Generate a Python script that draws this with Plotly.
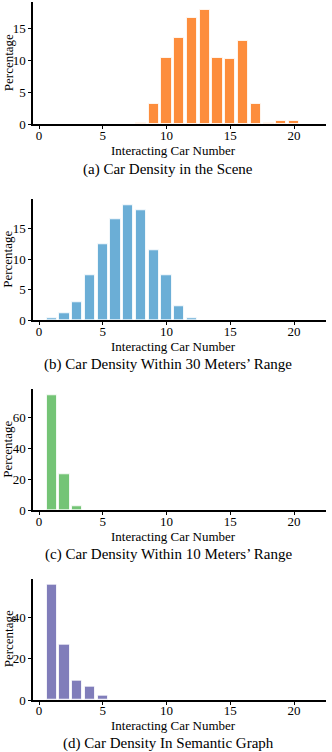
import plotly.graph_objects as go

# Interacting car number (x) and percentage (y) for each panel
scene_cars = [8, 9, 10, 11, 12, 13, 14, 15, 16, 17, 18, 19, 20]
scene_pct = [0.2, 3.2, 10.4, 13.5, 16.6, 17.8, 10.3, 10.2, 13.0, 3.2, 0.2, 0.5, 0.5]

range30_cars = [1, 2, 3, 4, 5, 6, 7, 8, 9, 10, 11, 12]
range30_pct = [0.4, 1.2, 2.9, 7.4, 12.5, 16.6, 18.8, 18.0, 11.5, 7.3, 2.3, 0.4]

range10_cars = [1, 2, 3]
range10_pct = [74.9, 23.1, 2.3]

graph_cars = [1, 2, 3, 4, 5]
graph_pct = [56.0, 26.7, 9.6, 6.3, 1.9]

panel_titles = [
    "(a) Car Density in the Scene",
    "(b) Car Density Within 30 Meters\u2019 Range",
    "(c) Car Density Within 10 Meters\u2019 Range",
    "(d) Car Density In Semantic Graph",
]
x_ticks = [0, 5, 10, 15, 20]
y_ticks = [[0, 5, 10, 15], [0, 5, 10, 15], [0, 20, 40, 60], [0, 20, 40]]

W, H = 332, 752
FONT = "Liberation Serif, Times New Roman, serif"

panels = [
    # data, colour, y max, plot top px, plot bottom px, title px
    (scene_cars, scene_pct, "#fd8d3c", 19.05, 2.0, 124.3, 169),
    (range30_cars, range30_pct, "#6baed6", 19.8, 199.3, 320.3, 364),
    (range10_cars, range10_pct, "#74c476", 78.6, 389.3, 510.3, 554),
    (graph_cars, graph_pct, "#807dba", 58.9, 578.7, 700.0, 743),
]


def px_x(px):
    # pixel column -> paper coordinate
    return px / W


def px_y(px):
    # pixel row -> paper coordinate
    return 1 - px / H


fig = go.Figure()
annotations = []
axis_style = dict(
    showline=True, linecolor="black", linewidth=1.5, mirror=False,
    ticks="outside", ticklen=3, tickwidth=1, tickcolor="black",
    showgrid=False, zeroline=False, automargin=False,
    tickfont=dict(family=FONT, size=13, color="black"),
)

for i, (xs, ys, color, ymax, top, bottom, title_y) in enumerate(panels):
    n = "" if i == 0 else str(i + 1)
    fig.add_trace(
        go.Bar(
            x=xs, y=ys, width=0.8,
            marker=dict(color=color, line=dict(color="rgba(255,255,255,0.8)", width=1)),
            xaxis="x" + n, yaxis="y" + n, showlegend=False,
        )
    )
    fig.layout["xaxis" + n] = dict(
        axis_style, domain=[px_x(33), px_x(326)], range=[-0.47, 22.5],
        tickvals=x_ticks, anchor="y" + n, ticklabelstandoff=-5,
    )
    fig.layout["yaxis" + n] = dict(
        axis_style, domain=[px_y(bottom), px_y(top)], range=[0, ymax],
        tickvals=y_ticks[i], anchor="x" + n,
    )
    mid = (top + bottom) / 2
    annotations += [
        dict(text="Percentage", x=px_x(8), y=px_y(mid), textangle=-90,
             font=dict(size=13)),
        dict(text="Interacting Car Number", x=px_x(173), y=px_y(bottom + 25.7),
             font=dict(size=13)),
        dict(text=panel_titles[i], x=px_x(168), y=px_y(title_y),
             font=dict(size=15)),
    ]

for a in annotations:
    a.update(xref="paper", yref="paper", showarrow=False,
             xanchor="center", yanchor="middle")
    a["font"].update(family=FONT, color="black")

fig.update_layout(
    width=W, height=H,
    margin=dict(l=0, r=0, t=0, b=0),
    paper_bgcolor="white", plot_bgcolor="white",
    bargap=0, annotations=annotations,
)

# drop the default page margin so the figure fills the window
fig.write_html(
    "out.html",
    config={"displayModeBar": False},
    post_script="document.body.style.margin='0';",
)
